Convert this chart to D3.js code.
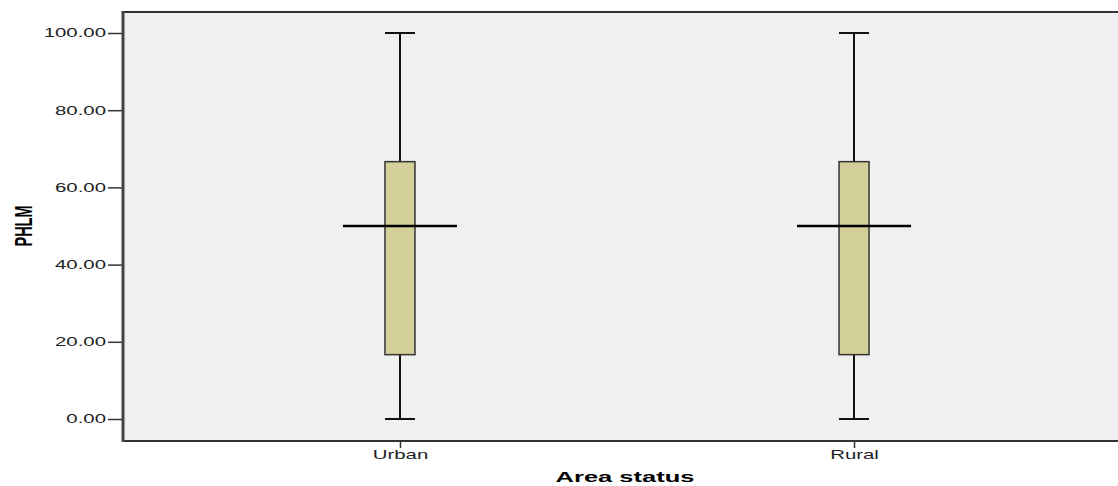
<!DOCTYPE html>
<html>
<head>
<meta charset="utf-8">
<script src="https://cdn.jsdelivr.net/npm/d3@7"></script>
<style>
  html, body { margin: 0; padding: 0; background: #fff; }
  svg { display: block; }
</style>
</head>
<body>
<div id="chart"></div>
<script>
// box plot values
const categories = ['Urban', 'Rural'];
const minValues = [0, 0];
const q1Values = [16.67, 16.67];
const medianValues = [50, 50];
const q3Values = [66.67, 66.67];
const maxValues = [100, 100];
const yTicks = [0, 20, 40, 60, 80, 100];

const width = 1118, height = 486;
const margin = { top: 12, left: 123, bottom: 45 };
const stretch = 1.7; // the source picture is stretched sideways

const svg = d3.select('#chart').append('svg')
  .attr('width', width)
  .attr('height', height);

const plotBottom = height - margin.bottom;

const x = d3.scalePoint()
  .domain(categories)
  .range([margin.left, 1131])
  .padding(0.61);

const y = d3.scaleLinear()
  .domain([0, 100])
  .range([419, 33]);

// plot background
svg.append('rect')
  .attr('x', margin.left)
  .attr('y', margin.top)
  .attr('width', width - margin.left)
  .attr('height', plotBottom - margin.top)
  .style('fill', '#f0f0f0');

const boxes = categories.map((c, i) => ({
  cat: c, min: minValues[i], q1: q1Values[i], med: medianValues[i], q3: q3Values[i], max: maxValues[i]
}));

const boxW = 30;
const medW = 114;
const g = svg.append('g').classed('boxes', true);

const bx = g.selectAll('.box').data(boxes).enter().append('g').classed('box', true);

// whiskers
bx.append('line')
  .attr('x1', d => x(d.cat)).attr('x2', d => x(d.cat))
  .attr('y1', d => y(d.max)).attr('y2', d => y(d.q3))
  .style('stroke', '#111').style('stroke-width', 2);
bx.append('line')
  .attr('x1', d => x(d.cat)).attr('x2', d => x(d.cat))
  .attr('y1', d => y(d.q1)).attr('y2', d => y(d.min))
  .style('stroke', '#111').style('stroke-width', 2);
// caps
bx.selectAll('.cap').data(d => [d.min, d.max].map(v => ({ cat: d.cat, v })))
  .enter().append('line')
  .classed('cap', true)
  .attr('x1', d => x(d.cat) - boxW / 2).attr('x2', d => x(d.cat) + boxW / 2)
  .attr('y1', d => y(d.v)).attr('y2', d => y(d.v))
  .style('stroke', '#111').style('stroke-width', 2);

// box
bx.append('rect')
  .attr('x', d => x(d.cat) - boxW / 2)
  .attr('width', boxW)
  .attr('y', d => y(d.q3))
  .attr('height', d => y(d.q1) - y(d.q3))
  .style('fill', '#d3cf98')
  .style('stroke', '#333')
  .style('stroke-width', 1.5);

// median
bx.append('line')
  .attr('x1', d => x(d.cat) - medW / 2).attr('x2', d => x(d.cat) + medW / 2)
  .attr('y1', d => y(d.med)).attr('y2', d => y(d.med))
  .style('stroke', '#000').style('stroke-width', 2.5);

// frame
svg.append('line')
  .attr('x1', margin.left).attr('x2', width)
  .attr('y1', margin.top).attr('y2', margin.top)
  .style('stroke', '#333').style('stroke-width', 2);
svg.append('line')
  .attr('x1', margin.left).attr('x2', width)
  .attr('y1', plotBottom).attr('y2', plotBottom)
  .style('stroke', '#333').style('stroke-width', 2);

// y axis
const yAxisG = svg.append('g')
  .attr('transform', `translate(${margin.left},0)`)
  .call(d3.axisLeft(y).tickValues(yTicks).tickFormat(d3.format('.2f')).tickSize(15).tickSizeOuter(0));

yAxisG.select('.domain').remove();
yAxisG.selectAll('.tick line').style('stroke', '#333').style('stroke-width', 1.5);
yAxisG.selectAll('.tick text')
  .attr('x', 0)
  .attr('transform', `translate(-17,0) scale(${stretch},1)`)
  .style('font-family', '"Liberation Sans", Arial, sans-serif')
  .style('font-size', '12px')
  .style('fill', '#222');

svg.append('line')
  .attr('x1', margin.left).attr('x2', margin.left)
  .attr('y1', margin.top - 1).attr('y2', plotBottom + 1)
  .style('stroke', '#444').style('stroke-width', 3);

// x axis
const xAxisG = svg.append('g')
  .attr('transform', `translate(0,${plotBottom})`)
  .call(d3.axisBottom(x).tickSize(7).tickSizeOuter(0));

xAxisG.select('.domain').remove();
xAxisG.selectAll('.tick line').style('stroke', '#333').style('stroke-width', 1.5);
xAxisG.selectAll('.tick text')
  .attr('y', 0)
  .attr('dy', 0)
  .attr('transform', `translate(0,18) scale(${stretch},1)`)
  .style('font-family', '"Liberation Sans", Arial, sans-serif')
  .style('font-size', '12px')
  .style('fill', '#222');

// axis titles
svg.append('text')
  .attr('transform', `translate(625,482) scale(${stretch},1)`)
  .attr('text-anchor', 'middle')
  .style('font-family', '"Liberation Sans", Arial, sans-serif')
  .style('font-weight', 'bold')
  .style('font-size', '15px')
  .style('fill', '#000')
  .text('Area status');

svg.append('text')
  .attr('transform', `translate(32,226) scale(${stretch},1) rotate(-90)`)
  .attr('text-anchor', 'middle')
  .style('font-family', '"Liberation Sans", Arial, sans-serif')
  .style('font-weight', 'bold')
  .style('font-size', '14.5px')
  .style('fill', '#000')
  .text('PHLM');
</script>
</body>
</html>
